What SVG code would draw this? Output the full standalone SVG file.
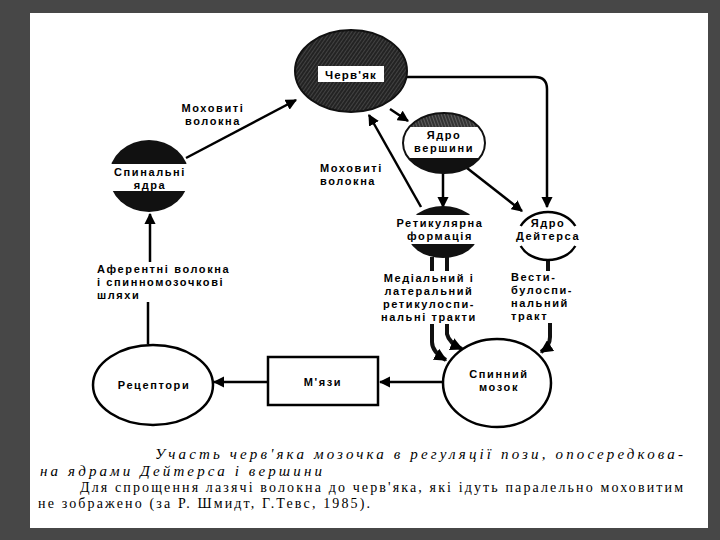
<svg xmlns="http://www.w3.org/2000/svg" width="720" height="540" viewBox="0 0 720 540">
<style>
.lbl{font-family:"Liberation Sans",Arial,sans-serif;font-weight:bold;font-size:11px;fill:#000;letter-spacing:1.6px}
.inv{font-family:"Liberation Sans",Arial,sans-serif;font-weight:bold;font-size:11.5px;fill:#000;letter-spacing:1.2px}
.cap{font-family:"Liberation Serif","DejaVu Serif","Times New Roman",serif;font-size:14px;fill:#000}
.it{font-style:italic;font-size:15px}
.ln{fill:none;stroke:#000;stroke-width:2.5}
.thick{fill:none;stroke:#111;stroke-width:4}
</style>
<defs>
<marker id="ah" viewBox="0 0 10 10" refX="9" refY="5" markerWidth="4.5" markerHeight="4.5" orient="auto" markerUnits="strokeWidth">
<path d="M0,0 L10,5 L0,10 Z" fill="#000"/>
</marker>
<marker id="ahT" viewBox="0 0 10 10" refX="9" refY="5" markerWidth="3.2" markerHeight="3.2" orient="auto" markerUnits="strokeWidth">
<path d="M0,0 L10,5 L0,10 Z" fill="#000"/>
</marker>
<pattern id="hatch" width="3" height="3" patternUnits="userSpaceOnUse" patternTransform="rotate(35)">
<rect width="3" height="3" fill="#232323"/>
<line x1="0" y1="0" x2="0" y2="3" stroke="#626262" stroke-width="1"/>
</pattern>
<pattern id="hatch2" width="3" height="3" patternUnits="userSpaceOnUse" patternTransform="rotate(-20)">
<rect width="3" height="3" fill="#333"/>
<line x1="0" y1="0" x2="0" y2="3" stroke="#8a8a8a" stroke-width="1"/>
</pattern>
<clipPath id="cpV"><ellipse cx="444" cy="143" rx="41" ry="30"/></clipPath>
<clipPath id="cpS"><ellipse cx="149" cy="176" rx="40" ry="36"/></clipPath>
<clipPath id="cpR"><ellipse cx="443" cy="232" rx="36" ry="26"/></clipPath>
</defs>

<rect width="720" height="540" fill="#474747"/>
<rect x="30" y="13" width="678" height="515" fill="#fff"/>

<g id="connectors">
<line class="ln" x1="186" y1="158" x2="296" y2="100" marker-end="url(#ah)"/>
<line class="ln" x1="421" y1="207" x2="369" y2="115" marker-end="url(#ah)"/>
<line class="ln" x1="390" y1="109" x2="408" y2="121" marker-end="url(#ah)"/>
<line class="ln" x1="443" y1="173" x2="443" y2="207" marker-end="url(#ah)"/>
<line class="ln" x1="467" y1="168" x2="522" y2="211" marker-end="url(#ah)"/>
<path class="ln" d="M407,77 H535 Q547,77 547,89 V207" marker-end="url(#ah)"/>
<path class="thick" d="M432,257 V271 M447,257 V271"/>
<path class="thick" d="M432,324 V342 Q432,352 446,360" marker-end="url(#ahT)"/>
<path class="thick" d="M447,324 V334 Q449,343 462,349" marker-end="url(#ahT)"/>
<path class="thick" d="M548,259 V271"/>
<path class="thick" d="M550,323 V337 Q550,346 541,352" marker-end="url(#ahT)"/>
<line class="ln" x1="443" y1="382" x2="380" y2="382" marker-end="url(#ah)"/>
<line class="ln" x1="268" y1="382" x2="214" y2="382" marker-end="url(#ah)"/>
<line class="ln" x1="148" y1="344" x2="148" y2="302"/>
<line class="ln" x1="150" y1="262" x2="150" y2="214" marker-end="url(#ah)"/>
</g>

<g id="cherviak">
<ellipse cx="351" cy="71" rx="56" ry="41" fill="url(#hatch)" stroke="#111" stroke-width="2"/>
<rect x="318" y="66" width="66" height="16" fill="#fff"/>
<text class="inv" x="351" y="78.5" text-anchor="middle">Черв'як</text>
</g>

<g id="yadro-vershyny">
<g clip-path="url(#cpV)">
<rect x="400" y="110" width="90" height="17" fill="url(#hatch2)"/>
<rect x="400" y="127" width="90" height="31" fill="#fff"/>
<rect x="400" y="158" width="90" height="20" fill="#111"/>
</g>
<ellipse cx="444" cy="143" rx="41" ry="30" fill="none" stroke="#111" stroke-width="2"/>
<text class="lbl" x="444" y="139" text-anchor="middle">Ядро</text>
<text class="lbl" x="444" y="152" text-anchor="middle">вершини</text>
</g>

<g id="spinalni-yadra">
<g clip-path="url(#cpS)">
<rect x="105" y="138" width="90" height="26" fill="#111"/>
<rect x="105" y="191" width="90" height="23" fill="#111"/>
</g>
<text class="lbl" x="150" y="176" text-anchor="middle">Спинальні</text>
<text class="lbl" x="150" y="188.5" text-anchor="middle">ядра</text>
</g>

<g id="retykuliarna">
<g clip-path="url(#cpR)">
<rect x="400" y="200" width="90" height="15" fill="#111"/>
<rect x="400" y="244" width="90" height="20" fill="#111"/>
</g>
<text class="lbl" x="440" y="227" text-anchor="middle">Ретикулярна</text>
<text class="lbl" x="440" y="240" text-anchor="middle">формація</text>
</g>

<g id="yadro-deitersa">
<path class="ln" d="M520.7,226 A30,24 0 0 1 575.3,226"/>
<path class="ln" d="M520.7,246 A30,24 0 0 0 575.3,246"/>
<text class="lbl" x="548" y="227" text-anchor="middle">Ядро</text>
<text class="lbl" x="548" y="240" text-anchor="middle">Дейтерса</text>
</g>

<g id="retseptory">
<ellipse cx="153" cy="385" rx="60" ry="40" fill="#fff" stroke="#000" stroke-width="2.5"/>
<text class="lbl" x="154" y="389" text-anchor="middle">Рецептори</text>
</g>

<g id="miazy">
<rect x="268" y="357" width="110" height="48" fill="#fff" stroke="#000" stroke-width="2.5"/>
<text class="lbl" x="323" y="386" text-anchor="middle">М'язи</text>
</g>

<g id="spynnyi-mozok">
<ellipse cx="497" cy="383" rx="54" ry="44" fill="#fff" stroke="#000" stroke-width="2.5"/>
<text class="lbl" x="499" y="378" text-anchor="middle">Спинний</text>
<text class="lbl" x="499" y="391" text-anchor="middle">мозок</text>
</g>

<g id="labels">
<text class="lbl" x="213" y="112" text-anchor="middle">Моховиті</text>
<text class="lbl" x="213" y="125" text-anchor="middle">волокна</text>
<text class="lbl" x="320" y="172">Моховиті</text>
<text class="lbl" x="320" y="185">волокна</text>
<text class="lbl" x="97" y="273">Аферентні волокна</text>
<text class="lbl" x="97" y="286">і спинномозочкові</text>
<text class="lbl" x="97" y="299">шляхи</text>
<text class="lbl" x="429" y="282" text-anchor="middle">Медіальний і</text>
<text class="lbl" x="429" y="295" text-anchor="middle">латеральний</text>
<text class="lbl" x="429" y="308" text-anchor="middle">ретикулоспи-</text>
<text class="lbl" x="429" y="321" text-anchor="middle">нальні тракти</text>
<text class="lbl" x="511" y="281">Вести-</text>
<text class="lbl" x="511" y="294">булоспи-</text>
<text class="lbl" x="511" y="307">нальний</text>
<text class="lbl" x="511" y="320">тракт</text>
</g>

<g id="caption">
<text class="cap it" x="155" y="459" textLength="528" lengthAdjust="spacing">Участь черв'яка мозочка в регуляції пози, опосередкова-</text>
<text class="cap it" x="40" y="476" textLength="282" lengthAdjust="spacing">на ядрами Дейтерса і вершини</text>
<text class="cap" x="80" y="492" textLength="603" lengthAdjust="spacing">Для спрощення лазячі волокна до черв'яка, які ідуть паралельно моховитим</text>
<text class="cap" x="38" y="508" textLength="332" lengthAdjust="spacing">не зображено (за Р. Шмидт, Г.Тевс, 1985).</text>
</g>
</svg>
